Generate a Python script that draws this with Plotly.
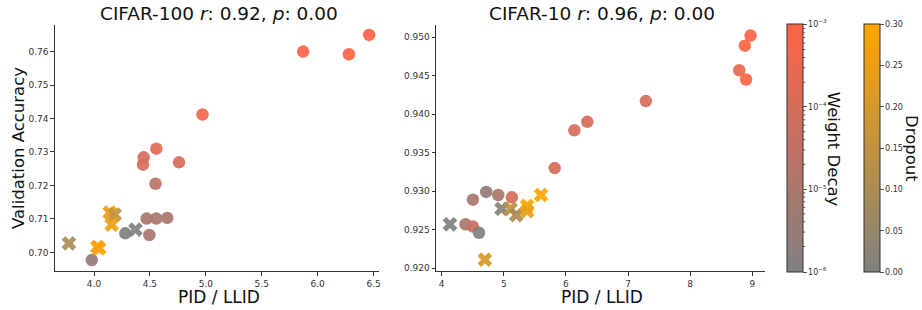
import numpy as np
import plotly.graph_objects as go

# ---------------- data ----------------
# CIFAR-100: circles coloured by weight decay
c100_circ_x = [6.46, 5.87, 6.28, 4.97, 4.557, 4.444, 4.438, 4.76, 4.55, 4.47, 4.557, 4.655, 4.495, 4.28, 3.98]
c100_circ_y = [0.765, 0.760, 0.7592, 0.7412, 0.7310, 0.7284, 0.7262, 0.7269, 0.7205, 0.7101, 0.7101, 0.7103, 0.7052, 0.7057, 0.6977]
c100_circ_wd = [1e-3, 1e-3, 1e-3, 5e-4, 2e-4, 1e-4, 1e-4, 1e-4, 2e-5, 1e-5, 1e-5, 1e-5, 1e-5, 1e-6, 3e-6]
# CIFAR-100: crosses coloured by dropout
c100_x_x = [3.776, 4.03, 4.045, 4.14, 4.185, 4.158, 4.37]
c100_x_y = [0.7027, 0.7016, 0.7012, 0.7119, 0.7113, 0.7083, 0.7068]
c100_x_do = [0.10, 0.25, 0.30, 0.25, 0.15, 0.25, 0.0]

# CIFAR-10
c10_circ_x = [8.973, 8.88, 8.79, 8.90, 7.287, 6.345, 6.136, 5.82, 4.717, 4.91, 5.13, 4.503, 4.385, 4.503, 4.60]
c10_circ_y = [0.9502, 0.9489, 0.9457, 0.9445, 0.9417, 0.9390, 0.9379, 0.9330, 0.9299, 0.9295, 0.9292, 0.9289, 0.9257, 0.9254, 0.9246]
c10_circ_wd = [1e-3, 1e-3, 3e-4, 1e-3, 1e-4, 1e-4, 1e-4, 1e-4, 3e-6, 1e-5, 1e-4, 1e-5, 1e-5, 5e-5, 1e-6]
c10_x_x = [4.134, 4.964, 5.11, 5.20, 5.376, 5.376, 5.60, 4.696]
c10_x_y = [0.9257, 0.9277, 0.9277, 0.9269, 0.9281, 0.9274, 0.9295, 0.9211]
c10_x_do = [0.0, 0.02, 0.15, 0.10, 0.30, 0.25, 0.30, 0.20]

titles = ["CIFAR-100 <i>r</i>: 0.92, <i>p</i>: 0.00", "CIFAR-10 <i>r</i>: 0.96, <i>p</i>: 0.00"]
wd_ticks = [-6, -5, -4, -3]
do_ticks = [0.0, 0.05, 0.10, 0.15, 0.20, 0.25, 0.30]

# ---------------- figure ----------------
W, H = 922, 310
def px(x): return x / W
def py(y): return 1 - y / H

FONT = "DejaVu Sans"
fig = go.Figure()

def add_panel(cx, cy, cwd, xx, xy, xdo, xa, ya):
    fig.add_trace(go.Scatter(
        x=cx, y=cy, mode="markers", xaxis=xa, yaxis=ya, showlegend=False,
        marker=dict(symbol="circle", size=12.5, color=list(np.log10(cwd)),
                    coloraxis="coloraxis", opacity=0.92, line=dict(width=0))))
    fig.add_trace(go.Scatter(
        x=xx, y=xy, mode="markers", xaxis=xa, yaxis=ya, showlegend=False,
        marker=dict(symbol="x", size=13, color=xdo,
                    coloraxis="coloraxis2", opacity=0.92, line=dict(width=0))))

add_panel(c100_circ_x, c100_circ_y, c100_circ_wd, c100_x_x, c100_x_y, c100_x_do, "x", "y")
add_panel(c10_circ_x, c10_circ_y, c10_circ_wd, c10_x_x, c10_x_y, c10_x_do, "x2", "y2")

CB_TOP, CB_BOT = 25, 273
ydom = [py(CB_BOT), py(CB_TOP)]
axis_common = dict(showgrid=False, zeroline=False, showline=True, linecolor="#333",
                   linewidth=1, ticks="outside", ticklen=3.5, tickwidth=1, tickcolor="#333",
                   tickfont=dict(family=FONT, size=9, color="#333"), mirror=False)

fig.update_layout(
    width=W, height=H, plot_bgcolor="white", paper_bgcolor="white",
    margin=dict(l=0, r=0, t=0, b=0),
    font=dict(family=FONT),
    xaxis=dict(domain=[px(55), px(380)], range=[3.65, 6.55], dtick=0.5, tickformat=".1f",
               anchor="y", **axis_common),
    yaxis=dict(domain=ydom, range=[0.69436, 0.768], dtick=0.01, tickformat=".2f",
               anchor="x", **axis_common),
    xaxis2=dict(domain=[px(437), px(767)], range=[3.91, 9.21], dtick=1, tickformat="d",
                anchor="y2", **axis_common),
    yaxis2=dict(domain=ydom, range=[0.9196, 0.9516], dtick=0.005, tickformat=".3f",
                anchor="x2", **axis_common),
)

wd_ticktext = ["10<sup>−%d</sup>" % (-t) for t in wd_ticks]

cb_common = dict(thickness=16, thicknessmode="pixels", len=CB_BOT - CB_TOP, lenmode="pixels",
                 y=py((CB_TOP + CB_BOT) / 2), yanchor="middle", xanchor="left", xpad=0, ypad=0,
                 outlinewidth=1, outlinecolor="#333", ticks="outside", ticklen=3.5,
                 tickcolor="#555", tickfont=dict(family=FONT, size=8, color="#333"))

fig.update_layout(
    coloraxis=dict(cmin=-6, cmax=-3, colorscale=[[0, "#808080"], [1, "#FF6347"]],
                   colorbar=dict(x=px(789), tickvals=wd_ticks, ticktext=wd_ticktext,
                                 **cb_common)),
    coloraxis2=dict(cmin=0, cmax=0.3, colorscale=[[0, "#808080"], [1, "#FFA500"]],
                    colorbar=dict(x=px(866), tickvals=do_ticks, tickformat=".2f",
                                  **cb_common)),
)

# minor log ticks on the weight-decay colorbar
shapes = []
for k in range(-6, -3):
    for m in range(2, 10):
        v = k + np.log10(m)
        yy = CB_BOT - (v + 6) / 3 * (CB_BOT - CB_TOP)
        shapes.append(dict(type="line", xref="paper", yref="paper",
                           x0=px(805), x1=px(807), y0=py(yy), y1=py(yy),
                           line=dict(color="#555", width=1)))
fig.update_layout(shapes=shapes)

ann = []
ann.append(dict(text=titles[0], x=px(219), y=py(14), xref="paper", yref="paper",
                showarrow=False, font=dict(size=18.5, color="#111"), xanchor="center", yanchor="middle"))
ann.append(dict(text=titles[1], x=px(603), y=py(14), xref="paper", yref="paper",
                showarrow=False, font=dict(size=18.5, color="#111"), xanchor="center", yanchor="middle"))
ann.append(dict(text="Validation Accuracy", x=px(18), y=py(149), xref="paper", yref="paper",
                showarrow=False, textangle=-90, font=dict(size=16.5, color="#111"),
                xanchor="center", yanchor="middle"))
for cx in (219.5, 603):
    ann.append(dict(text="PID / LLID", x=px(cx), y=py(299), xref="paper", yref="paper",
                    showarrow=False, font=dict(size=17, color="#111"),
                    xanchor="center", yanchor="middle"))
ann.append(dict(text="Weight Decay", x=px(836), y=py(150), xref="paper", yref="paper",
                showarrow=False, textangle=90, font=dict(size=16.5, color="#111"),
                xanchor="center", yanchor="middle"))
ann.append(dict(text="Dropout", x=px(914), y=py(149), xref="paper", yref="paper",
                showarrow=False, textangle=90, font=dict(size=16.5, color="#111"),
                xanchor="center", yanchor="middle"))
fig.update_layout(annotations=ann)

fig.write_html("out.html", config={"displayModeBar": False},
               post_script="document.body.style.margin='0';")
